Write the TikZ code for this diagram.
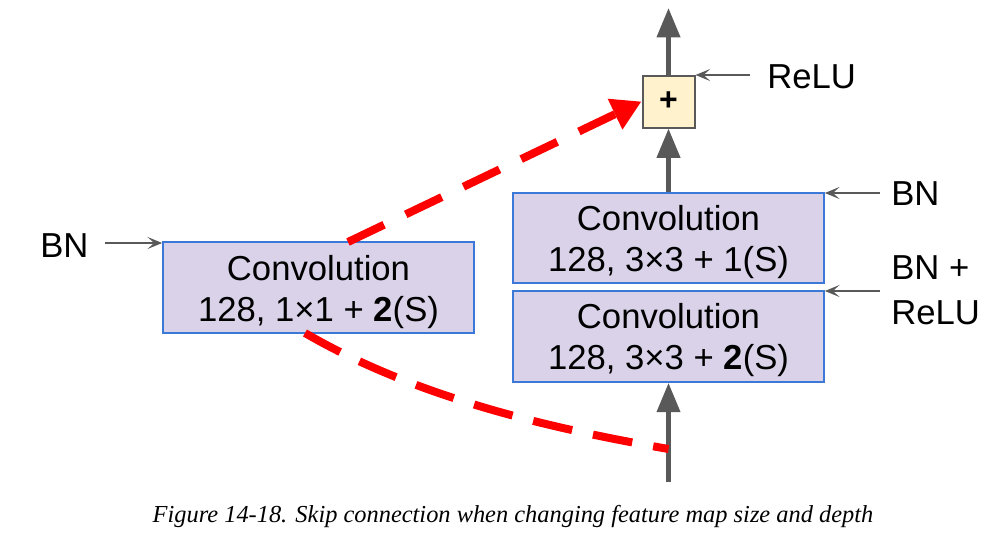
\documentclass[tikz,border=0pt]{standalone}
\usepackage{fontspec}
\setmainfont{Liberation Sans}
\newfontfamily\capfont{Liberation Serif}
\usetikzlibrary{arrows.meta}
\definecolor{boxfill}{HTML}{D9D2E9}
\definecolor{boxline}{HTML}{3C78D8}
\definecolor{plusfill}{HTML}{FFF2CC}
\definecolor{darkgr}{HTML}{595959}
\definecolor{redl}{HTML}{FF0000}
\begin{document}
\begin{tikzpicture}[x=0.75pt,y=-0.75pt,
  convbox/.style={draw=boxline,line width=1.5pt,fill=boxfill,minimum width=233pt,minimum height=68pt,inner sep=0pt,align=center,font=\fontsize{26}{34}\selectfont},
  plusbox/.style={draw=darkgr,line width=1.5pt,fill=plusfill,minimum width=39pt,minimum height=39pt,inner sep=0pt,font=\fontsize{24}{24}\selectfont\bfseries},
  lbl/.style={font=\fontsize{26}{34}\selectfont,align=left,inner sep=0pt},
  mainarrow/.style={draw=darkgr,line width=3.8pt,-{Triangle[length=22pt,width=17pt]}},
  smallarrow/.style={draw=darkgr,line width=1.8pt,-{Stealth[length=11pt,width=9pt,inset=5pt]}},
  skip/.style={draw=redl,line width=6pt,dash pattern=on 30pt off 18pt},
]
\useasboundingbox (0,0) rectangle (999,539);
\node[convbox] (left) at (318.5,287.5) {};
\node[convbox] (top) at (668.5,238) {};
\node[convbox] (bot) at (668.5,336.5) {};
\node[lbl,font=\fontsize{26}{34}\selectfont] (t1) at (318.5,268) {Convolution};
\node[lbl,font=\fontsize{26}{34}\selectfont] (t2) at (318.5,313) {128, 1×1 + \textbf{2}(S)};
\node[lbl] (t3) at (668.5,218) {Convolution};
\node[lbl] (t4) at (668.5,263) {128, 3×3 + 1(S)};
\node[lbl] (t5) at (668.5,316) {Convolution};
\node[lbl] (t6) at (668.5,361) {128, 3×3 + \textbf{2}(S)};
\node[plusbox] (plus) at (668.5,101.5) {+};
\coordinate (in) at (668.5,482);
\coordinate (out) at (668.5,8);
\draw[mainarrow] (in) -- (bot.south);
\draw[mainarrow] (top.north) -- (plus.south);
\draw[mainarrow] (plus.north) -- (out);
% labels
\node[lbl,anchor=west] (bnl) at (40,246) {BN};
\node[lbl,anchor=west] (relu) at (767,77) {ReLU};
\node[lbl,anchor=west] (bnr) at (891,194) {BN};
\node[lbl,anchor=west] (bnr2) at (891,268) {BN +};
\node[lbl,anchor=west] (bnr3) at (891,313) {ReLU};
\coordinate (a1) at (105,243);
\coordinate (a2) at (750,75);
\coordinate (a3) at (880,193);
\coordinate (a4) at (880,291);
\draw[smallarrow] (a1) -- (a1 -| left.west);
\draw[smallarrow] (a2) -- (a2 -| plus.east);
\draw[smallarrow] (a3) -- (a3 -| top.east);
\draw[smallarrow] (a4) -- (a4 -| top.east);
% skip connections
\draw[skip,-{Triangle[length=22pt,width=24pt]}] (348,242) -- (plus.west);
\draw[skip,dash pattern=on 30pt off 16pt] (305,333) .. controls (420,400) and (560,430) .. (668.5,449);
\node[font=\capfont\itshape\fontsize{18.3}{20}\selectfont] (cap) at (513,516) {Figure 14-18. Skip connection when changing feature map size and depth};
\end{tikzpicture}
\end{document}
